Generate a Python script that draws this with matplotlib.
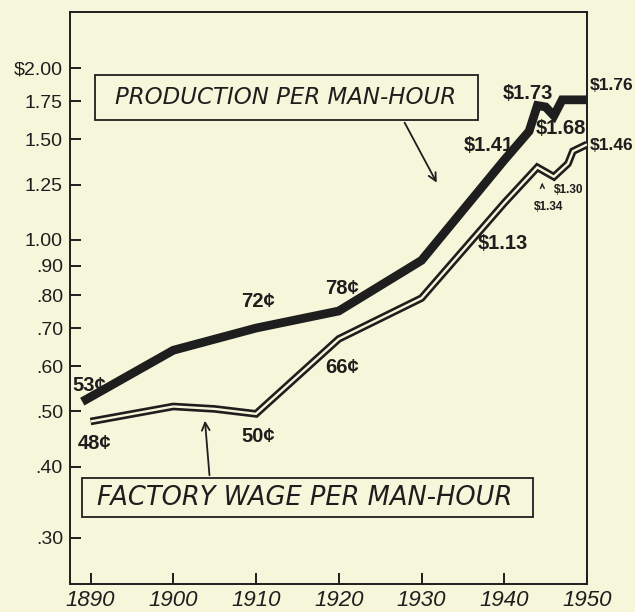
import matplotlib
matplotlib.use("Agg")
import matplotlib.pyplot as plt
from matplotlib.patches import Rectangle
from matplotlib.ticker import NullLocator

# --- data ---
prod_years = [1889, 1900, 1910, 1920, 1930, 1940, 1943, 1944, 1945, 1946, 1947, 1950]
prod_values = [0.52, 0.64, 0.70, 0.75, 0.92, 1.38, 1.55, 1.72, 1.71, 1.65, 1.76, 1.76]

wage_years = [1890, 1900, 1905, 1910, 1920, 1930, 1940, 1944, 1946, 1947.7, 1948.3, 1950]
wage_values = [0.48, 0.51, 0.505, 0.495, 0.67, 0.79, 1.16, 1.34, 1.29, 1.36, 1.43, 1.47]

x_ticks = [1890, 1900, 1910, 1920, 1930, 1940, 1950]
y_ticks = [2.00, 1.75, 1.50, 1.25, 1.00, 0.90, 0.80, 0.70, 0.60, 0.50, 0.40, 0.30]
y_tick_labels = ["$2.00", "1.75", "1.50", "1.25", "1.00", ".90", ".80", ".70",
                 ".60", ".50", ".40", ".30"]

# value labels: (text, year, value)
value_labels = [
    ("53¢", 1889.9, 0.556), ("48¢", 1890.5, 0.440),
    ("72¢", 1910.2, 0.778), ("50¢", 1910.3, 0.451),
    ("78¢", 1920.4, 0.820), ("66¢", 1920.4, 0.598),
    ("$1.13", 1939.8, 0.987), ("$1.41", 1938.1, 1.466),
    ("$1.73", 1942.9, 1.807), ("$1.68", 1946.8, 1.570),
]
edge_labels = [("$1.76", 1950.3, 1.867), ("$1.46", 1950.3, 1.466)]
small_labels = [("$1.30", 1947.8, 1.222), ("$1.34", 1945.4, 1.141)]

BG = "#F6F6DA"
INK = "#1E1E1E"
FONT = ["Liberation Sans", "DejaVu Sans"]
HAND = ["DejaVu Sans"]

fig = plt.figure(figsize=(6.35, 6.12), dpi=100, facecolor=BG)
ax = fig.add_axes([0.110, 0.0458, 0.8144, 0.9342])
ax.set_facecolor(BG)

ax.set_yscale("log")
ax.set_xlim(1887.5, 1950)
ax.set_ylim(0.249, 2.507)

# production: heavy black line
ax.plot(prod_years, prod_values, color=INK, lw=6.3,
        solid_capstyle="butt", solid_joinstyle="miter", zorder=3)
# wage: double line (black with a thin light core)
ax.plot(wage_years, wage_values, color=INK, lw=5.5,
        solid_capstyle="butt", solid_joinstyle="miter", zorder=3)
ax.plot(wage_years, wage_values, color=BG, lw=1.7,
        solid_capstyle="butt", solid_joinstyle="miter", zorder=4)

# axes styling
for s in ax.spines.values():
    s.set_color(INK)
    s.set_linewidth(1.4)
ax.yaxis.set_minor_locator(NullLocator())
ax.set_yticks(y_ticks)
ax.set_yticklabels(y_tick_labels, family=FONT, fontsize=14, color=INK)
ax.set_xticks(x_ticks)
ax.set_xticklabels([str(y) for y in x_ticks], family=FONT, fontsize=16,
                   style="italic", color=INK)
ax.tick_params(axis="y", direction="in", length=8, width=1.4, pad=5, colors=INK)
ax.tick_params(axis="x", direction="in", length=8, width=1.4, pad=4, colors=INK)

for txt, x, y in value_labels:
    ax.text(x, y, txt, ha="center", va="center", family=FONT, fontsize=14.5,
            fontweight="bold", color=INK, clip_on=False, zorder=5)
for txt, x, y in edge_labels:
    ax.text(x, y, txt, ha="left", va="center", family=FONT, fontsize=12.5,
            fontweight="bold", color=INK, clip_on=False, zorder=5)
for txt, x, y in small_labels:
    ax.text(x, y, txt, ha="center", va="center", family=FONT, fontsize=8.5,
            fontweight="bold", color=INK, clip_on=False, zorder=5)

# label boxes
ax.add_patch(Rectangle((0.048, 0.811), 0.741, 0.079, transform=ax.transAxes,
                       fill=False, ec=INK, lw=1.3, zorder=5))
ax.text(0.418, 0.851, "PRODUCTION PER MAN-HOUR", transform=ax.transAxes,
        ha="center", va="center", family=HAND, fontsize=16.5, style="italic",
        color=INK, zorder=6)
ax.add_patch(Rectangle((0.023, 0.117), 0.873, 0.068, transform=ax.transAxes,
                       fill=False, ec=INK, lw=1.3, zorder=5))
ax.text(0.455, 0.151, "FACTORY WAGE PER MAN-HOUR", transform=ax.transAxes,
        ha="center", va="center", family=HAND, fontsize=18.5, style="italic",
        color=INK, zorder=6)

# pointer arrows
arrow = dict(arrowstyle="->", color=INK, lw=1.3, mutation_scale=14)
ax.annotate("", xy=(1932.0, 1.247), xytext=(1927.8, 1.621), arrowprops=arrow)
ax.annotate("", xy=(1903.8, 0.487), xytext=(1904.4, 0.382), arrowprops=arrow)
ax.annotate("", xy=(1944.6, 1.272), xytext=(1944.6, 1.232),
            arrowprops=dict(arrowstyle="->", color=INK, lw=1.0, mutation_scale=7))

fig.savefig("out.png", dpi=100, facecolor=BG)
